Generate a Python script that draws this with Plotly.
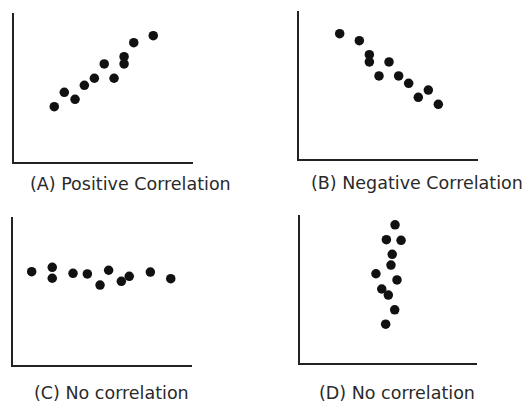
import plotly.graph_objects as go

W, H = 530, 403

# Panel A: Positive correlation
a_x = [2.25, 2.81, 3.41, 3.93, 4.49, 5.04, 5.59, 6.15, 6.15, 6.69, 7.78]
a_y = [3.71, 4.68, 4.21, 5.15, 5.62, 6.58, 5.62, 7.07, 6.58, 8.01, 8.48]
# Panel B: Negative correlation
b_x = [2.26, 3.36, 3.92, 3.92, 5.02, 4.46, 5.56, 6.12, 7.22, 6.66, 7.78]
b_y = [8.45, 7.98, 7.04, 6.55, 6.55, 5.61, 5.61, 5.11, 4.66, 4.17, 3.70]
# Panel C: No correlation (horizontal)
c_x = [1.06, 2.21, 2.21, 3.37, 4.17, 4.88, 5.36, 6.07, 6.51, 7.69, 8.83]
c_y = [6.29, 6.59, 5.85, 6.18, 6.14, 5.39, 6.39, 5.64, 5.98, 6.27, 5.82]
# Panel D: No correlation (vertical)
d_x = [5.37, 4.88, 5.71, 5.21, 5.14, 4.29, 5.48, 4.62, 4.99, 5.35, 4.84]
d_y = [9.36, 8.35, 8.31, 7.36, 6.64, 6.05, 5.63, 5.02, 4.61, 3.61, 2.64]

captions = ["(A) Positive Correlation", "(B) Negative Correlation",
            "(C) No correlation", "(D) No correlation"]

# pixel boxes (left, right, top, bottom) of each panel's axes
boxes = [(14, 193, 13, 162), (299.3, 478, 10.7, 159.3),
         (12.7, 191.7, 216.7, 365), (300, 477, 215.3, 363.3)]
cap_pos = [(130, 184), (417, 183), (111.5, 393), (396.5, 393)]

series = [(a_x, a_y), (b_x, b_y), (c_x, c_y), (d_x, d_y)]

fig = go.Figure()
layout = dict(width=W, height=H, margin=dict(l=0, r=0, t=0, b=0),
              plot_bgcolor="white", paper_bgcolor="white", showlegend=False)

for i, ((xs, ys), (l, r, t, b)) in enumerate(zip(series, boxes)):
    n = "" if i == 0 else str(i + 1)
    fig.add_trace(go.Scatter(x=xs, y=ys, mode="markers",
                             marker=dict(size=9.5, color="#111111"),
                             xaxis="x" + n, yaxis="y" + n, hoverinfo="skip"))
    ax_common = dict(range=[0, 10], showgrid=False, zeroline=False,
                     showticklabels=False, ticks="", showline=True,
                     linecolor="#222222", linewidth=1.5, fixedrange=True)
    layout["xaxis" + n] = dict(ax_common, domain=[l / W, r / W],
                               anchor="y" + n)
    layout["yaxis" + n] = dict(ax_common, domain=[1 - b / H, 1 - t / H],
                               anchor="x" + n)

annotations = []
for text, (cx, cy) in zip(captions, cap_pos):
    annotations.append(dict(text=text, x=cx / W, y=1 - cy / H,
                            xref="paper", yref="paper", showarrow=False,
                            xanchor="center", yanchor="middle",
                            font=dict(family="DejaVu Sans", size=17.5,
                                      color="#2a2a2a")))
layout["annotations"] = annotations
fig.update_layout(**layout)
fig.write_html("out.html", config={"displayModeBar": False},
               post_script="document.body.style.margin='0';"
                           "document.body.style.overflow='hidden';")
